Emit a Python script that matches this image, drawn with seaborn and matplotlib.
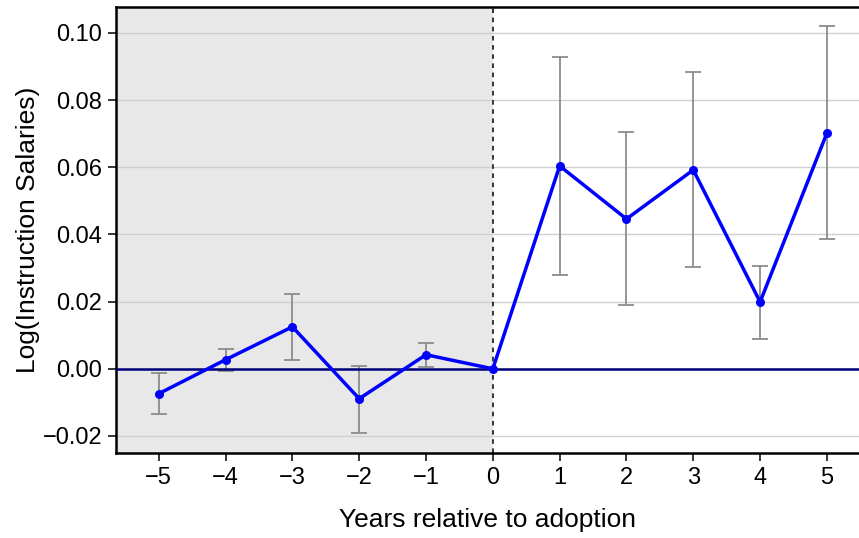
import matplotlib
matplotlib.use("Agg")
import matplotlib.pyplot as plt
import seaborn as sns
import pandas as pd
import numpy as np

years = [-5, -4, -3, -2, -1, 0, 1, 2, 3, 4, 5]
estimate = [-0.0074, 0.0027, 0.0125, -0.0089, 0.0042, 0.0, 0.0604, 0.0446, 0.0592, 0.0199, 0.0702]
ci_low = [-0.0134, -0.0006, 0.0027, -0.0190, 0.0006, 0.0, 0.0280, 0.0190, 0.0303, 0.0089, 0.0386]
ci_high = [-0.0012, 0.0060, 0.0223, 0.0009, 0.0077, 0.0, 0.0927, 0.0704, 0.0883, 0.0307, 0.1019]
yticks = [-0.02, 0.00, 0.02, 0.04, 0.06, 0.08, 0.10]
xticks = [-5, -4, -3, -2, -1, 0, 1, 2, 3, 4, 5]

df = pd.DataFrame({"year": years, "est": estimate, "lo": ci_low, "hi": ci_high})

sns.set_style("white")
plt.rcParams["font.family"] = ["Liberation Sans", "DejaVu Sans"]
plt.rcParams["text.color"] = "black"
plt.rcParams["axes.labelcolor"] = "black"
plt.rcParams["xtick.color"] = "black"
plt.rcParams["ytick.color"] = "black"

fig = plt.figure(figsize=(8.59, 5.38), dpi=100)
ax = fig.add_axes([0.135, 0.158, 0.865, 0.829])

xmin, xmax = -5.64, 5.48
ax.axvspan(xmin, 0, color="#e8e8e8", zorder=0, lw=0)
for yt in yticks:
    ax.axhline(yt, color="#d0d0d0", lw=1.0, zorder=1)

eb = df[df["year"] != 0]
ax.errorbar(eb["year"], eb["est"],
            yerr=[eb["est"] - eb["lo"], eb["hi"] - eb["est"]],
            fmt="none", ecolor="#8c8c8c", elinewidth=1.3, capsize=5.8, capthick=1.3, zorder=2)

ax.axhline(0, color="#00007a", lw=1.8, zorder=3)
ax.axvline(0, color="black", lw=1.1, ls=(0, (3, 3)), zorder=3)

sns.lineplot(data=df, x="year", y="est", ax=ax, color="#0000ff", lw=2.5,
             marker="o", markersize=6.5, markeredgewidth=0, zorder=4)

ax.set_xlim(xmin, xmax)
ax.set_ylim(-0.02506, 0.1077)
ax.set_xticks(xticks)
ax.set_xticklabels([str(x).replace("-", "\u2212") for x in xticks])
ax.set_yticks(yticks)
ax.set_yticklabels([f"{y:.2f}".replace("-", "\u2212") for y in yticks])
ax.tick_params(axis="both", labelsize=17, length=6, width=1.1, colors="black", direction="out",
               bottom=True, left=True, pad=4)
ax.set_xlabel("Years relative to adoption", fontsize=19, labelpad=14, color="black")
ax.set_ylabel("Log(Instruction Salaries)", fontsize=19, labelpad=2, color="black")

for side in ["left", "top", "bottom"]:
    ax.spines[side].set_visible(True)
    ax.spines[side].set_color("black")
    ax.spines[side].set_linewidth(1.8)
ax.spines["right"].set_visible(False)

fig.savefig("out.png", dpi=100)
